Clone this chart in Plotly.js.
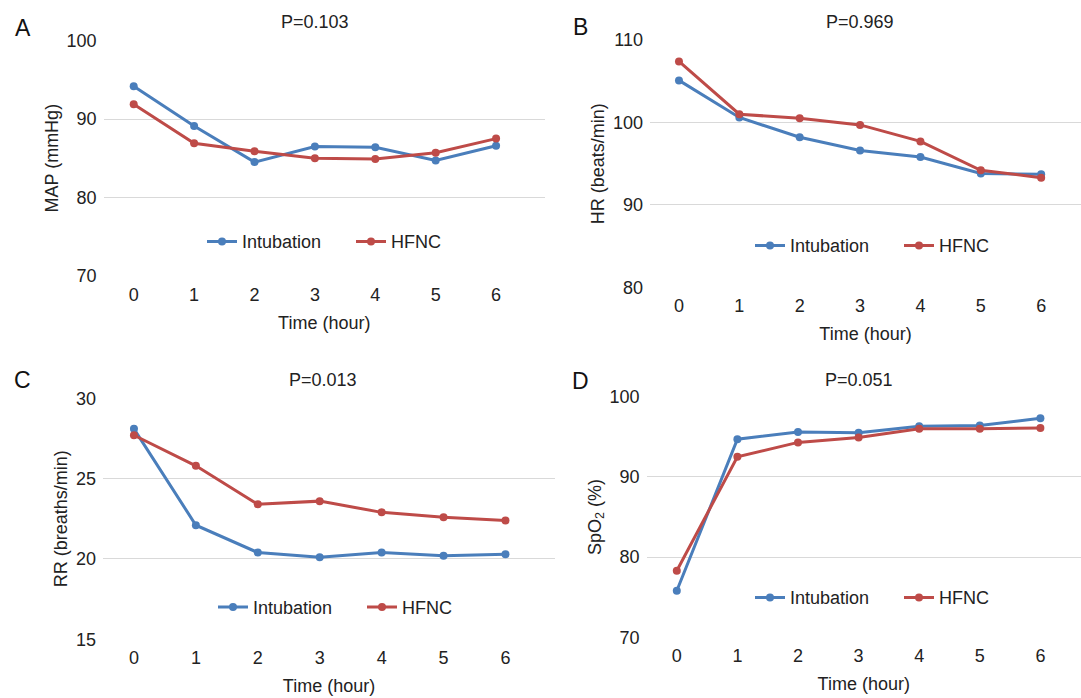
<!DOCTYPE html>
<html>
<head>
<meta charset="utf-8">
<script src="https://cdn.plot.ly/plotly-3.0.1.min.js"></script>
<style>html,body{margin:0;padding:0;background:#fff;}#chart{width:1081px;height:698px;}</style>
</head>
<body>
<div id="chart"></div>
<script>
// ---- data ----
const hours = [0, 1, 2, 3, 4, 5, 6];
const seriesNames = ["Intubation", "HFNC"];

const mapIntubation = [94.2, 89.1, 84.5, 86.5, 86.4, 84.7, 86.6];
const mapHFNC       = [91.9, 86.9, 85.9, 85.0, 84.9, 85.7, 87.5];

const hrIntubation  = [105.1, 100.6, 98.2, 96.6, 95.8, 93.8, 93.7];
const hrHFNC        = [107.4, 101.0, 100.5, 99.7, 97.7, 94.2, 93.3];

const rrIntubation  = [28.1, 22.1, 20.4, 20.1, 20.4, 20.2, 20.3];
const rrHFNC        = [27.7, 25.8, 23.4, 23.6, 22.9, 22.6, 22.4];

const spo2Intubation = [75.8, 94.7, 95.6, 95.5, 96.3, 96.4, 97.3];
const spo2HFNC       = [78.3, 92.5, 94.3, 94.9, 96.0, 96.0, 96.1];

const panelLetters = ["A", "B", "C", "D"];
const pValues = ["P=0.103", "P=0.969", "P=0.013", "P=0.051"];
const yTitles = ["MAP (mmHg)", "HR (beats/min)", "RR (breaths/min)", "SpO<sub>2</sub> (%)"];
const xTitle = "Time (hour)";

// ---- styling / layout ----
const W = 1081, H = 698;
const blue = "#4A7EBB", red = "#BE4B48";
const FONT = "Liberation Sans, Arial, Helvetica, sans-serif";
const txt = "#222222";
const FS = 18;
const px = v => v / W;
const py = v => 1 - v / H;

const panels = [
  {ia: mapIntubation, hf: mapHFNC, xd: [103.5, 545], yd: [40.7, 275.7], xr: [-0.5, 6.81], yr: [70, 100], dt: 10, leg: [202, 241.7]},
  {ia: hrIntubation, hf: hrHFNC, xd: [650, 1081], yd: [40, 287.3], xr: [-0.48, 6.66], yr: [80, 110], dt: 10, leg: [750, 245.7]},
  {ia: rrIntubation, hf: rrHFNC, xd: [103, 555], yd: [398.3, 639.3], xr: [-0.5, 6.8], yr: [15, 30], dt: 5, leg: [213, 607.3]},
  {ia: spo2Intubation, hf: spo2HFNC, xd: [646.5, 1081], yd: [396.7, 637.3], xr: [-0.5, 6.67], yr: [70, 100], dt: 10, leg: [750, 597.7]}
];
const titlePos = [[315, 21.7], [859.7, 21.7], [322.7, 380], [858.8, 380]];
const letterPos = [[22.5, 28], [580.8, 27], [22.5, 380], [580.8, 381]];

const traces = [];
const layout = {
  width: W, height: H,
  margin: {l: 0, r: 0, t: 0, b: 0},
  paper_bgcolor: "#fff", plot_bgcolor: "rgba(0,0,0,0)",
  font: {family: FONT, size: FS, color: txt},
  showlegend: true,
  annotations: []
};

panels.forEach((p, i) => {
  const n = i + 1;
  const xa = n === 1 ? "x" : "x" + n;
  const ya = n === 1 ? "y" : "y" + n;
  const lg = n === 1 ? "legend" : "legend" + n;
  [[p.ia, seriesNames[0], blue], [p.hf, seriesNames[1], red]].forEach(([vals, name, col]) => {
    traces.push({
      x: hours, y: vals, name: name, type: "scatter", mode: "lines+markers",
      xaxis: xa, yaxis: ya, legend: lg,
      line: {color: col, width: 3},
      marker: {color: col, size: 8},
      hoverinfo: "x+y+name"
    });
  });
  layout["xaxis" + (n === 1 ? "" : n)] = {
    domain: [px(p.xd[0]), px(p.xd[1])], anchor: ya,
    range: p.xr, tickvals: hours, ticktext: hours.map(String),
    showgrid: false, zeroline: false, showline: false, ticks: "",
    ticklabelstandoff: 6,
    tickfont: {size: FS, color: txt},
    title: {text: xTitle, font: {size: FS, color: txt}, standoff: 12}
  };
  layout["yaxis" + (n === 1 ? "" : n)] = {
    domain: [py(p.yd[1]), py(p.yd[0])], anchor: xa,
    range: p.yr, dtick: p.dt, tick0: 0,
    showgrid: true, gridcolor: "#d9d9d9", gridwidth: 1,
    zeroline: false, showline: false, ticks: "",
    ticklabelstandoff: 6,
    tickfont: {size: FS, color: txt},
    title: {text: yTitles[i], font: {size: FS, color: txt}, standoff: 3}
  };
  layout[lg] = {
    orientation: "h", x: px(p.leg[0]), y: py(p.leg[1]),
    xanchor: "left", yanchor: "middle",
    bgcolor: "rgba(0,0,0,0)", borderwidth: 0,
    font: {size: FS, color: txt},
    entrywidth: 104, entrywidthmode: "pixels"
  };
  layout.annotations.push({
    text: pValues[i], xref: "paper", yref: "paper",
    x: px(titlePos[i][0]), y: py(titlePos[i][1]),
    xanchor: "center", yanchor: "middle", showarrow: false,
    font: {size: FS, color: txt}
  });
  layout.annotations.push({
    text: panelLetters[i], xref: "paper", yref: "paper",
    x: px(letterPos[i][0]), y: py(letterPos[i][1]),
    xanchor: "center", yanchor: "middle", showarrow: false,
    font: {size: 23, color: "#111"}
  });
});

Plotly.newPlot("chart", traces, layout, {displayModeBar: false, staticPlot: true});
</script>
</body>
</html>
